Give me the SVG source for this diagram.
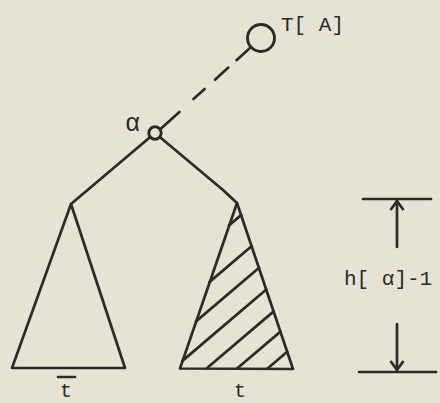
<svg xmlns="http://www.w3.org/2000/svg" width="440" height="403" viewBox="0 0 440 403">
  <defs>
    <marker id="vhead" markerUnits="userSpaceOnUse" markerWidth="20" markerHeight="20" viewBox="-10 -10 20 20" refX="0" refY="0" orient="auto">
      <path d="M-9,-6.5 L0,0 L-9,6.5" fill="none" stroke="#2b2b28" stroke-width="2.7" stroke-linejoin="miter"/>
    </marker>
  </defs>
  <style>
    .ln { fill: none; stroke: #2b2b28; stroke-width: 2.7; stroke-linecap: round; stroke-linejoin: round; }
    .nd { fill: #e7e3d4; stroke: #2b2b28; stroke-width: 2.9; }
    .tx { font-family: "Liberation Mono", "DejaVu Sans Mono", monospace; font-size: 21px; fill: #2b2b28; }
    .lbl { font-size: 20px; }
  </style>
  <rect width="440" height="403" fill="#e7e3d4"/>

  <g id="connectors">
    <path class="ln" d="M159.4,130 L250.5,47.5" stroke-dasharray="27 19 15 14 18 11 40" stroke-linecap="butt"/>
    <path class="ln" d="M155,133 L71,204"/>
    <path class="ln" d="M155,133 L223,190 L237,203"/>
  </g>

  <g id="node-TA">
    <circle class="nd" cx="261" cy="38" r="13.5"/>
    <text class="tx" x="281" y="31">T[ A]</text>
  </g>

  <g id="node-alpha">
    <circle class="nd" cx="155" cy="133" r="6.2"/>
    <text class="tx" x="125" y="131" style="font-size:25px">α</text>
  </g>

  <g id="subtree-tbar">
    <path class="ln" d="M71,204 L12,368 L125,368 Z"/>
    <line class="ln" x1="58" y1="377" x2="75" y2="377"/>
    <text class="tx lbl" x="66" y="397" text-anchor="middle">t</text>
  </g>

  <g id="subtree-t">
    <path class="ln" d="M237,203 L180,368.5 L293,369 Z"/>
    <path class="ln" d="M229,225.4 L241.3,214.9 M209.6,281.9 L251.8,246 M196,321.4 L259.1,267.8 M182.4,360.9 L266.3,289.5 M206.5,368.5 L273.7,311.4 M237,368.5 L280.5,331.6 M267.6,368.5 L287.2,351.8"/>
    <text class="tx lbl" x="240" y="397" text-anchor="middle">t</text>
  </g>

  <g id="height-dimension">
    <line class="ln" x1="363" y1="199" x2="431" y2="199"/>
    <line class="ln" x1="397" y1="247" x2="397" y2="201" marker-end="url(#vhead)"/>
    <text class="tx" x="344" y="285">h[ α]-1</text>
    <line class="ln" x1="397" y1="324" x2="397" y2="370" marker-end="url(#vhead)"/>
    <line class="ln" x1="359" y1="372" x2="436" y2="372"/>
  </g>
</svg>
